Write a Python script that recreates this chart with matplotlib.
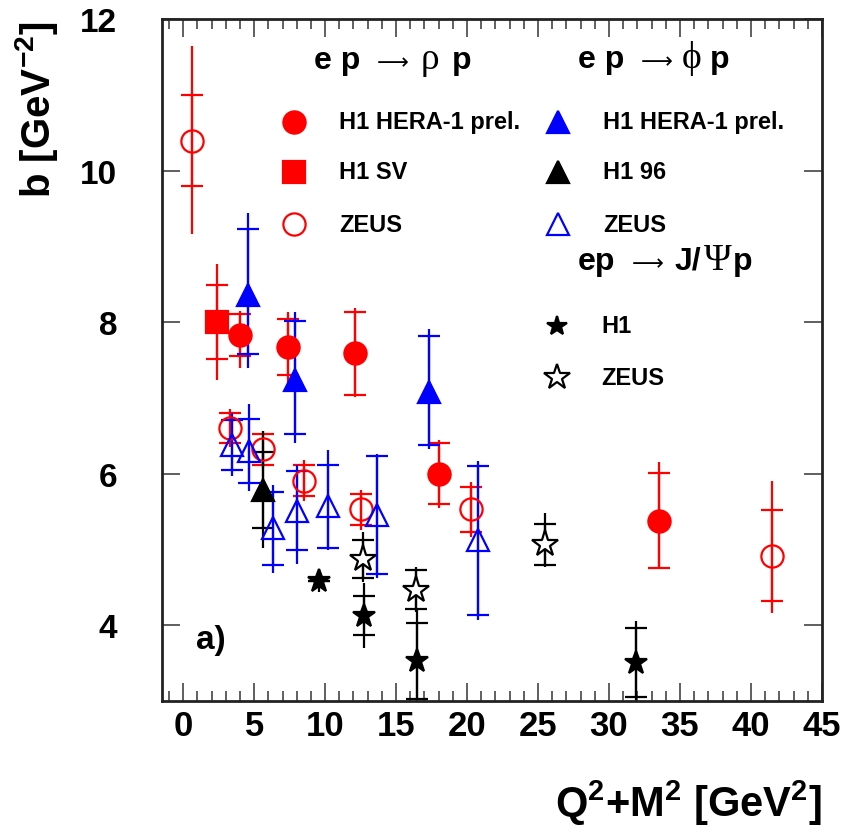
import numpy as np
import matplotlib
matplotlib.use("Agg")
from matplotlib import pyplot as plt

plt.rcParams['font.family'] = ['Liberation Sans', 'DejaVu Sans']
plt.rcParams['font.weight'] = 'bold'
plt.rcParams['mathtext.fontset'] = 'custom'
plt.rcParams['mathtext.rm'] = 'Liberation Sans'
plt.rcParams['mathtext.bf'] = 'Liberation Sans:bold'

# rho, H1 HERA-1 prel.
rho_h1_x = [4.0, 7.4, 12.1, 18.0, 33.5]
rho_h1_y = [7.83, 7.67, 7.59, 6.0, 5.38]
rho_h1_stat = [0.28, 0.37, 0.55, 0.40, 0.63]
rho_h1_tot_up = [0.32, 0.47, 0.60, 0.45, 0.78]
rho_h1_tot_dn = [0.43, 0.47, 0.58, 0.45, 0.63]

# rho, H1 SV
rho_sv_x = [2.4]
rho_sv_y = [8.0]
rho_sv_stat = [0.49]
rho_sv_tot = [0.77]

# rho, ZEUS
rho_zeus_x = [0.6, 3.3, 5.6, 8.5, 12.5, 20.3, 41.5]
rho_zeus_y = [10.39, 6.60, 6.32, 5.91, 5.53, 5.53, 4.92]
rho_zeus_stat = [0.60, 0.20, 0.20, 0.20, 0.20, 0.30, 0.60]
rho_zeus_tot_up = [1.25, 0.25, 0.25, 0.27, 0.26, 0.36, 0.99]
rho_zeus_tot_dn = [1.23, 0.25, 0.25, 0.27, 0.27, 0.36, 0.76]

# phi, H1 HERA-1 prel.
phi_h1_x = [4.6, 7.9, 17.3]
phi_h1_y = [8.36, 7.24, 7.08]
phi_h1_stat_up = [0.87, 0.78, 0.74]
phi_h1_stat_dn = [0.78, 0.72, 0.70]
phi_h1_tot_up = [1.08, 0.90, 0.83]
phi_h1_tot_dn = [0.96, 0.83, 0.76]

# phi, H1 96
phi_h96_x = [5.6]
phi_h96_y = [5.79]
phi_h96_stat = [0.50]
phi_h96_tot = [0.77]

# phi, ZEUS
phi_zeus_x = [3.45, 4.65, 6.3, 8.0, 10.2, 13.65, 20.8]
phi_zeus_y = [6.38, 6.30, 5.28, 5.51, 5.57, 5.46, 5.12]
phi_zeus_stat = [0.33, 0.42, 0.48, 0.52, 0.55, 0.78, 0.98]
phi_zeus_tot_up = [0.42, 0.62, 0.57, 0.60, 0.74, 0.80, 1.05]
phi_zeus_tot_dn = [0.41, 0.53, 0.59, 0.70, 0.58, 0.84, 1.05]

# J/psi, H1
jpsi_h1_x = [9.6, 12.75, 16.5, 31.9]
jpsi_h1_y = [4.59, 4.13, 3.53, 3.51]
jpsi_h1_stat = [0.0, 0.26, 0.50, 0.45]
jpsi_h1_tot = [0.15, 0.43, 0.68, 0.55]

# J/psi, ZEUS
jpsi_zeus_x = [12.7, 16.4, 25.5]
jpsi_zeus_y = [4.87, 4.47, 5.07]
jpsi_zeus_stat = [0.25, 0.26, 0.27]
jpsi_zeus_tot_up = [0.36, 0.30, 0.41]
jpsi_zeus_tot_dn = [0.30, 0.30, 0.30]

RED = '#ff0000'
BLUE = '#0000ff'
MS = 16
CAP = 8
LW = 1.6
SYM = ['Liberation Serif', 'DejaVu Serif']


def plot_set(ax, x, y, stat, tot, color, marker, mfc, ms=MS):
    ax.errorbar(x, y, yerr=tot, fmt='none', ecolor=color, elinewidth=LW, capsize=0)
    ax.errorbar(x, y, yerr=stat, fmt='none', ecolor=color, elinewidth=LW,
                capsize=CAP, capthick=LW)
    ax.plot(x, y, linestyle='none', marker=marker, color=color, mfc=mfc,
            mec=color, ms=ms, mew=LW, zorder=5)


def header(fig, y_px, parts):
    # parts: (x in pixels, text, kind) ; y is the baseline in pixels from top
    W, H = fig.bbox.width, fig.bbox.height
    for x_px, s, kind in parts:
        if kind == 'sym':
            fig.text(x_px / W, 1 - y_px / H, s, fontsize=27, family=SYM,
                     fontweight='normal', va='baseline')
        elif kind == 'arrow':
            fig.text(x_px / W, 1 - y_px / H, s, fontsize=16, family=['DejaVu Sans'],
                     fontweight='normal', va='baseline')
        else:
            fig.text(x_px / W, 1 - y_px / H, s, fontsize=23, fontweight='bold',
                     va='baseline')


fig = plt.figure(figsize=(8.43, 8.29), dpi=100)
ax = fig.add_axes([0.192, 0.153, 0.783, 0.823])

plot_set(ax, rho_h1_x, rho_h1_y, rho_h1_stat, [rho_h1_tot_dn, rho_h1_tot_up], RED, 'o', RED)
plot_set(ax, rho_sv_x, rho_sv_y, rho_sv_stat, rho_sv_tot, RED, 's', RED)
plot_set(ax, rho_zeus_x, rho_zeus_y, rho_zeus_stat, [rho_zeus_tot_dn, rho_zeus_tot_up], RED, 'o', 'none')
plot_set(ax, phi_h1_x, phi_h1_y, [phi_h1_stat_dn, phi_h1_stat_up],
         [phi_h1_tot_dn, phi_h1_tot_up], BLUE, '^', BLUE)
plot_set(ax, phi_h96_x, phi_h96_y, phi_h96_stat, phi_h96_tot, 'black', '^', 'black')
plot_set(ax, phi_zeus_x, phi_zeus_y, phi_zeus_stat, [phi_zeus_tot_dn, phi_zeus_tot_up], BLUE, '^', 'none')
plot_set(ax, jpsi_h1_x, jpsi_h1_y, jpsi_h1_stat, jpsi_h1_tot, 'black', '*', 'black', ms=17)
plot_set(ax, jpsi_zeus_x, jpsi_zeus_y, jpsi_zeus_stat, [jpsi_zeus_tot_dn, jpsi_zeus_tot_up],
         'black', '*', 'white', ms=20)

ax.set_xlim(-1.5, 45)
ax.set_ylim(3, 12)
ax.set_xticks(np.arange(0, 46, 5))
ax.set_xticks(np.arange(-1, 46, 1), minor=True)
ax.set_yticks([4, 6, 8, 10, 12])
ax.tick_params(which='both', direction='in', top=True, right=True, width=1.2, color='#444444')
ax.tick_params(which='major', length=13)
ax.tick_params(which='minor', length=7)
ax.tick_params(axis='x', labelsize=25, pad=6)
ax.tick_params(axis='y', labelsize=24, pad=32)
for lab in ax.get_xticklabels() + ax.get_yticklabels():
    lab.set_fontweight('bold')
for s in ax.spines.values():
    s.set_linewidth(2)
    s.set_color('#222222')

ax.set_ylabel(r'b [GeV$^{\mathbf{-2}}$]', fontsize=29, fontweight='bold')
ax.yaxis.set_label_coords(-0.19, 0.868)
ax.yaxis.label.set_horizontalalignment('center')
ax.yaxis.label.set_verticalalignment('center')
ax.set_xlabel(r'Q$^{\mathbf{2}}$+M$^{\mathbf{2}}$ [GeV$^{\mathbf{2}}$]', fontsize=30, fontweight='bold')
ax.xaxis.set_label_coords(1.0, -0.148)
ax.xaxis.label.set_horizontalalignment('right')
ax.xaxis.label.set_verticalalignment('center')

# process headers
header(fig, 69, [(314, 'e p', 'b'), (377, '\u27f6', 'arrow'), (421, '\u03c1', 'sym'), (452, 'p', 'b')])
header(fig, 68, [(578, 'e p', 'b'), (641, '\u27f6', 'arrow'), (682, '\u03d5', 'sym'), (710, 'p', 'b')])
header(fig, 270, [(578, 'ep', 'b'), (632, '\u27f6', 'arrow'), (675, 'J/', 'b'),
                  (704, '\u03a8', 'sym'), (733, 'p', 'b')])

# legend-like annotations, placed as in the original
T = ax.transAxes
leg = [
    (0.200, 0.849, 'o', RED, RED, 'H1 HERA-1 prel.', MS),
    (0.200, 0.776, 's', RED, RED, 'H1 SV', MS),
    (0.200, 0.699, 'o', RED, 'none', 'ZEUS', MS),
    (0.600, 0.849, '^', BLUE, BLUE, 'H1 HERA-1 prel.', MS),
    (0.600, 0.776, '^', 'black', 'black', 'H1 96', MS),
    (0.600, 0.699, '^', BLUE, 'none', 'ZEUS', MS),
    (0.598, 0.550, '*', 'black', 'black', 'H1', 15),
    (0.598, 0.475, '*', 'black', 'white', 'ZEUS', 19),
]
for lx, ly, m, c, fc, txt, ms in leg:
    ax.plot([lx], [ly], transform=T, marker=m, color=c, mfc=fc, mec=c, ms=ms, mew=LW, clip_on=False)
    ax.text(lx + 0.068, ly, txt, transform=T, fontsize=17, fontweight='bold', va='center')

ax.text(0.052, 0.09, 'a)', transform=T, fontsize=24, fontweight='bold', va='center')

fig.savefig('out.png', dpi=100)
